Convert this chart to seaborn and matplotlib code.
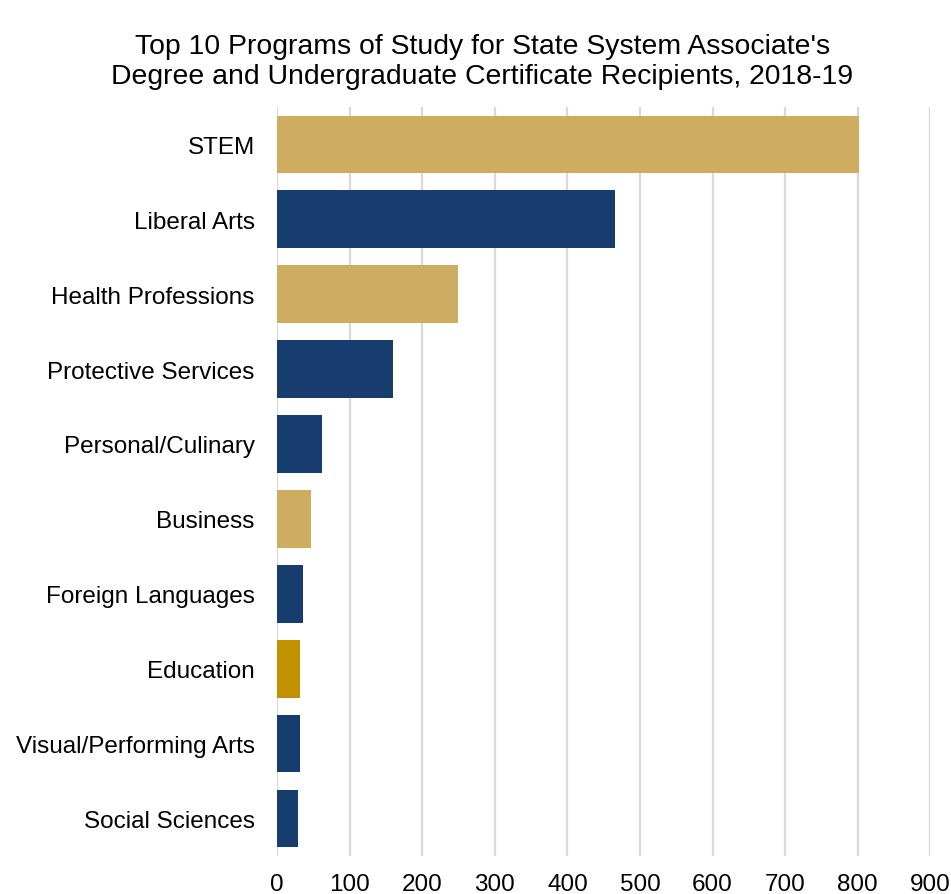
import seaborn as sns
import matplotlib.pyplot as plt
import pandas as pd

programs = ['STEM', 'Liberal Arts', 'Health Professions', 'Protective Services',
            'Personal/Culinary', 'Business', 'Foreign Languages', 'Education',
            'Visual/Performing Arts', 'Social Sciences']
recipients = [802, 465, 249, 160, 62, 47, 36, 32, 32, 29]
bar_colors = ['#CEAD60', '#163D6E', '#CEAD60', '#163D6E', '#163D6E',
              '#CEAD60', '#163D6E', '#C19100', '#163D6E', '#163D6E']
x_ticks = [0, 100, 200, 300, 400, 500, 600, 700, 800, 900]

df = pd.DataFrame({'program': programs, 'recipients': recipients})

sns.set_style('white')
plt.rcParams['font.family'] = ['Liberation Sans', 'DejaVu Sans']
plt.rcParams['text.color'] = 'black'

fig = plt.figure(figsize=(9.51, 8.95), dpi=100)
ax = fig.add_axes([0.2913, 0.0425, 0.687, 0.8369])
sns.barplot(data=df, x='recipients', y='program', hue='program',
            palette=bar_colors, legend=False, width=0.77, saturation=1,
            edgecolor='none', ax=ax)

ax.set_xlim(0, 900)
ax.set_ylim(9.5, -0.5)
ax.set_xticks(x_ticks)
ax.xaxis.grid(True, color='#D9D9D9', linewidth=1.6)
ax.set_axisbelow(True)
for s in ax.spines.values():
    s.set_visible(False)
ax.tick_params(axis='both', length=0, labelsize=17.5, colors='black')
ax.tick_params(axis='y', pad=16)
ax.tick_params(axis='x', pad=12)
ax.set_xlabel('')
ax.set_ylabel('')
fig.suptitle("Top 10 Programs of Study for State System Associate's\n"
             "Degree and Undergraduate Certificate Recipients, 2018-19",
             x=0.507, y=0.962, fontsize=20.4, linespacing=1.2)

plt.savefig('out.png', dpi=100)
